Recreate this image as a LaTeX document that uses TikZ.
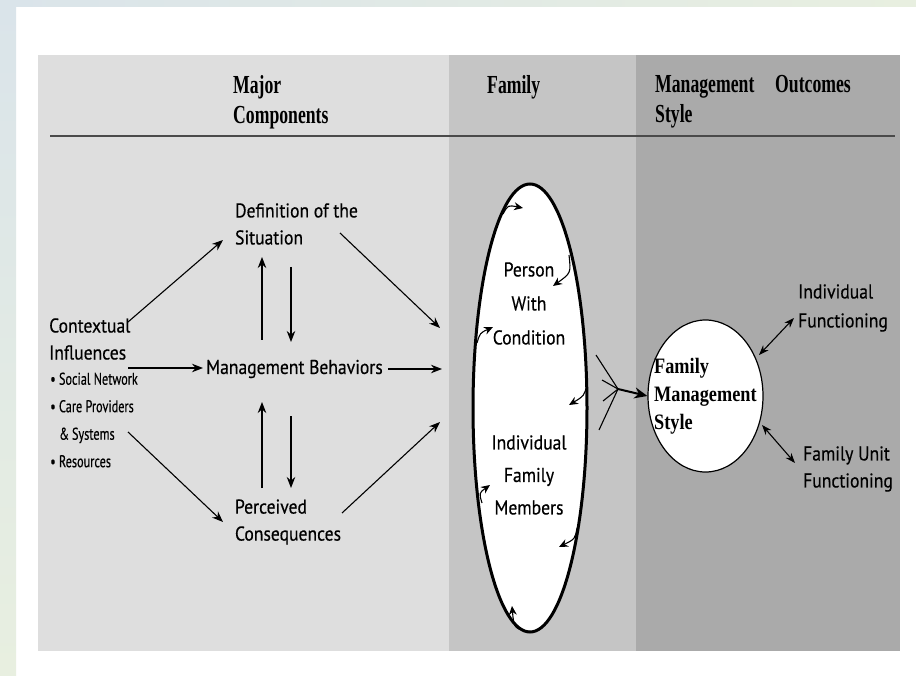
\documentclass[tikz,border=0pt]{standalone}
\usepackage{fontspec}
\setmainfont{PT Sans}
\newfontfamily\hdr[FakeStretch=0.68]{Liberation Serif}
\newfontfamily\fms[FakeStretch=0.83]{Liberation Serif}
\newfontfamily\sfn[FakeStretch=0.88,FakeBold=0.4]{PT Sans}
\newfontfamily\sfc[FakeStretch=0.72,FakeBold=0.4]{PT Sans}
\usetikzlibrary{arrows.meta,shapes.geometric}
\definecolor{colA}{HTML}{DEDEDE}
\definecolor{colB}{HTML}{C5C5C5}
\definecolor{colC}{HTML}{AAAAAA}
\definecolor{stripA}{HTML}{DAE4EA}
\definecolor{stripB}{HTML}{E8EFE0}
\definecolor{rule}{HTML}{4A4A4A}
\tikzset{
  lbl/.style={font=\sfn\fontsize{20}{27}\selectfont, inner sep=0pt, align=left},
  elbl/.style={font=\sfn\fontsize{20}{34}\selectfont, inner sep=0pt, align=center},
  blt/.style={font=\sfc\fontsize{17}{27.5}\selectfont, inner sep=0pt, align=left},
  hd/.style={font=\hdr\bfseries\fontsize{26}{30}\selectfont, inner sep=0pt, align=left, anchor=north west},
  arr/.style={-{Stealth[length=11pt,width=8.5pt]}, line width=1.1pt},
  darr/.style={{Stealth[length=10pt,width=7.5pt]}-{Stealth[length=10pt,width=7.5pt]}, line width=1.1pt},
  carr/.style={-{Stealth[length=9pt,width=8pt]}, line width=1.1pt},
  conv/.style={line width=1.1pt},
}
\begin{document}
\begin{tikzpicture}[x=1pt,y=-1pt]
\useasboundingbox (0,0) rectangle (916,676);
% background
\fill[white] (0,0) rectangle (916,676);
\shade[left color=stripA,right color=stripB] (0,0) rectangle (916,7);
\shade[top color=stripA,bottom color=stripB] (0,0) rectangle (16,676);
\fill[colA] (38,55) rectangle (449,651);
\fill[colB] (449,55) rectangle (636,651);
\fill[colC] (636,55) rectangle (900,651);
% headers
\node[hd] (hmaj) at (233,75) {Major\\Components};
\node[hd] (hfam) at (487,75) {Family};
\node[hd] (hman) at (655,75) {Management\\Style};
\node[hd] (hout) at (775,75) {Outcomes};
\coordinate (rl) at (50,136);
\coordinate (rr) at (895,136);
\draw[rule, line width=2.6pt] (rl) -- (rr);
% left labels
\node[lbl] (def) at (296.5,224) {Definition of the\\Situation};
\node[lbl] (mb) at (294.5,369) {Management Behaviors};
\node[lbl] (pc) at (288,522) {Perceived\\Consequences};
\node[lbl, anchor=west] (ctx) at (49,339) {Contextual\\Influences};
\node[blt, anchor=west] (bul) at (50,420) {\textbullet\ Social Network\\\textbullet\ Care Providers\\\hspace*{9pt}\&\,Systems\\\textbullet\ Resources};
% family ellipse
\node[ellipse, draw, fill=white, line width=3pt, minimum width=114pt, minimum height=448pt, inner sep=0pt] (fam) at (530,408) {};
\node[elbl] (pwc) at (529,303.5) {Person\\With\\Condition};
\node[elbl, font=\sfn\fontsize{20}{32.5}\selectfont] (ifm) at (529,475) {Individual\\Family\\Members};
% family management style
\node[ellipse, draw, fill=white, line width=1.2pt, minimum width=115pt, minimum height=152pt, inner sep=0pt] (fmsc) at (705.5,396) {};
\node[font=\fms\bfseries\fontsize{22}{28}\selectfont, inner sep=0pt, align=left, anchor=west] (fmst) at (654,396) {Family\\Management\\Style};
\node[lbl, font=\sfn\fontsize{20}{29}\selectfont, anchor=west] (indf) at (798,308) {Individual\\Functioning};
\node[lbl, font=\sfn\fontsize{20}{27}\selectfont, anchor=west] (fuf) at (803,469) {Family Unit\\Functioning};
% connector end points
\coordinate (a1s) at (128,322); \coordinate (a1e) at (223,240);
\coordinate (a2s) at (128,368); \coordinate (a2e) at (203,368);
\coordinate (a3s) at (128,432); \coordinate (a3e) at (223,522);
\coordinate (a4s) at (340,233); \coordinate (a4e) at (440,328);
\coordinate (a5s) at (388,369); \coordinate (a5e) at (442,369);
\coordinate (a6s) at (342,513); \coordinate (a6e) at (440,422);
\coordinate (v1s) at (262,340); \coordinate (v1e) at (262,257);
\coordinate (v2s) at (291,267); \coordinate (v2e) at (291,342);
\coordinate (v3s) at (262,488); \coordinate (v3e) at (262,402);
\coordinate (v4s) at (291,416); \coordinate (v4e) at (291,488);
\draw[arr] (a1s) -- (a1e);
\draw[arr] (a2s) -- (a2e);
\draw[arr] (a3s) -- (a3e);
\draw[arr] (a4s) -- (a4e);
\draw[arr] (a5s) -- (a5e);
\draw[arr] (a6s) -- (a6e);
\draw[arr] (v1s) -- (v1e);
\draw[arr] (v2s) -- (v2e);
\draw[arr] (v3s) -- (v3e);
\draw[arr] (v4s) -- (v4e);
% cycle arrows inside family ellipse
\draw[carr] (503,214) .. controls (508,205) .. (523,208);
\draw[carr] (569,255) .. controls (571,273) .. (553,286);
\draw[carr] (477,343) .. controls (480,333) .. (493,327);
\draw[carr] (587,385) .. controls (584,396) .. (569,405);
\draw[carr] (482,503) .. controls (479,493) .. (490,485);
\draw[carr] (577,528) .. controls (575,539) .. (559,547);
\draw[carr] (533,632) .. controls (514,629) .. (512,606);
% converging lines
\coordinate (cv) at (618,389);
\coordinate (c1) at (596,355);
\coordinate (c2) at (602,380);
\coordinate (c3) at (603,401);
\coordinate (c4) at (599,430);
\draw[conv] (c1) -- (cv);
\draw[conv] (c2) -- (cv);
\draw[conv] (c3) -- (cv);
\draw[conv] (c4) -- (cv);
\draw[-{Stealth[length=13pt,width=11pt]}, line width=2pt] (cv) -- (fmsc.west);
% outcome arrows
\coordinate (d1s) at (759,355); \coordinate (d1e) at (794,318);
\coordinate (d2s) at (762,425); \coordinate (d2e) at (795,463);
\draw[darr] (d1s) -- (d1e);
\draw[darr] (d2s) -- (d2e);
\end{tikzpicture}
\end{document}
